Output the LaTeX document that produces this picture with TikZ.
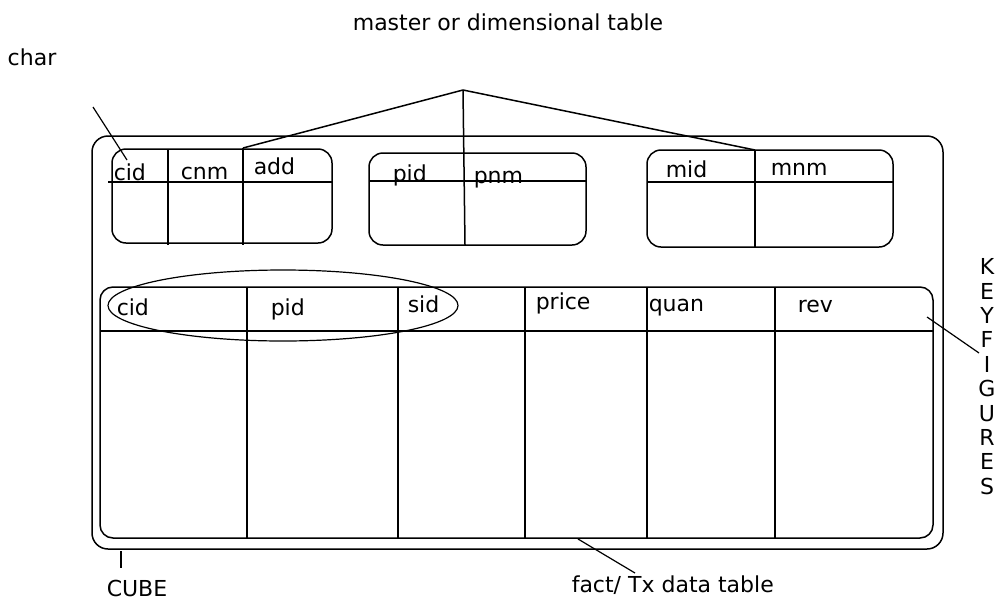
\documentclass[tikz,border=0pt]{standalone}
\usepackage{fontspec}
\setmainfont{DejaVu Sans}
\usetikzlibrary{shapes.geometric}
\begin{document}
\begin{tikzpicture}[x=1pt, y=-1pt, line width=1.5pt,
  lbl/.style={font=\fontsize{22}{24.4}\selectfont, inner sep=0pt, anchor=base west},
  tbl/.style={draw, rounded corners=14pt, inner sep=0pt},
  pointer/.style={line width=1.2pt}]
\useasboundingbox (0,0) rectangle (995,600);

% outer cube frame and the fact table inside it
\node[tbl, rounded corners=16pt, minimum width=851pt, minimum height=413pt] (cube) at (517.5,342.5) {};
\node[tbl, rounded corners=13pt, minimum width=833pt, minimum height=251pt] (fact) at (516.5,412.5) {};

% dimension tables
\node[tbl, minimum width=220pt, minimum height=94pt] (t1) at (222,196) {};
\node[tbl, minimum width=217pt, minimum height=92pt] (t2) at (477.5,199) {};
\node[tbl, minimum width=246pt, minimum height=97pt] (t3) at (770,198.5) {};

% table 1: cid | cnm | add
\draw (108,182) -- (332,182);
\draw (168,149) -- (168,245);
\draw (243,148) -- (243,245);
% table 2: pid | pnm
\draw (369,181) -- (586,181);
% table 3: mid | mnm
\draw (647,182) -- (893,182);
\draw (755,150) -- (755,247);

% fact table grid
\draw (100,331) -- (933,331);
\foreach \cx in {247,398,525,647,775}
  \draw (\cx,287) -- (\cx,538);

% key columns of the fact table
\node[draw, ellipse, line width=1.2pt, minimum width=350pt, minimum height=71pt, inner sep=0pt] (keys) at (283,305.5) {};

% column labels
\node[lbl] (c1) at (113,180) {cid};
\node[lbl] (c2) at (180,179) {cnm};
\node[lbl] (c3) at (253,174) {add};
\node[lbl] (p1) at (392,181) {pid};
\node[lbl] (p2) at (473,183) {pnm};
\node[lbl] (m1) at (665,177) {mid};
\node[lbl] (m2) at (770,175) {mnm};
\node[lbl] (f1) at (116,315) {cid};
\node[lbl] (f2) at (270,315) {pid};
\node[lbl] (f3) at (407,312) {sid};
\node[lbl] (f4) at (535,309) {price};
\node[lbl] (f5) at (648,311) {quan};
\node[lbl] (f6) at (797,312) {rev};

% captions
\node[lbl, anchor=base] (master) at (508,30) {master or dimensional table};
\node[lbl] (char) at (7,65) {char};
\node[lbl] (cubelbl) at (106,596) {CUBE};
\node[lbl] (factlbl) at (571,592) {fact/ Tx data table};
\node[font=\fontsize{22}{24.4}\selectfont, inner sep=0pt, align=center, anchor=north] (kf) at (987,258)
  {K\\E\\Y\\F\\I\\G\\U\\R\\E\\S};

% links from the caption to the dimension tables
\coordinate (apex) at (463,90);
\coordinate (t1top) at (243,148);
\coordinate (t2bot) at (465,245);
\coordinate (t3top) at (755,150);
\draw (apex) -- (t1top);
\draw (apex) -- (t2bot);
\draw (apex) -- (t3top);

% pointer lines
\coordinate (charA) at (93,107);
\coordinate (charB) at (127,160);
\draw[pointer] (charA) -- (charB);
\coordinate (revA) at (927,317);
\coordinate (kfI) at (979,353);
\draw[pointer] (revA) -- (kfI);
\coordinate (cubeA) at (121,551);
\coordinate (cubeB) at (121,568);
\draw[pointer] (cubeA) -- (cubeB);
\coordinate (factA) at (578,539);
\coordinate (factB) at (635,573);
\draw[pointer] (factA) -- (factB);
\end{tikzpicture}
\end{document}
